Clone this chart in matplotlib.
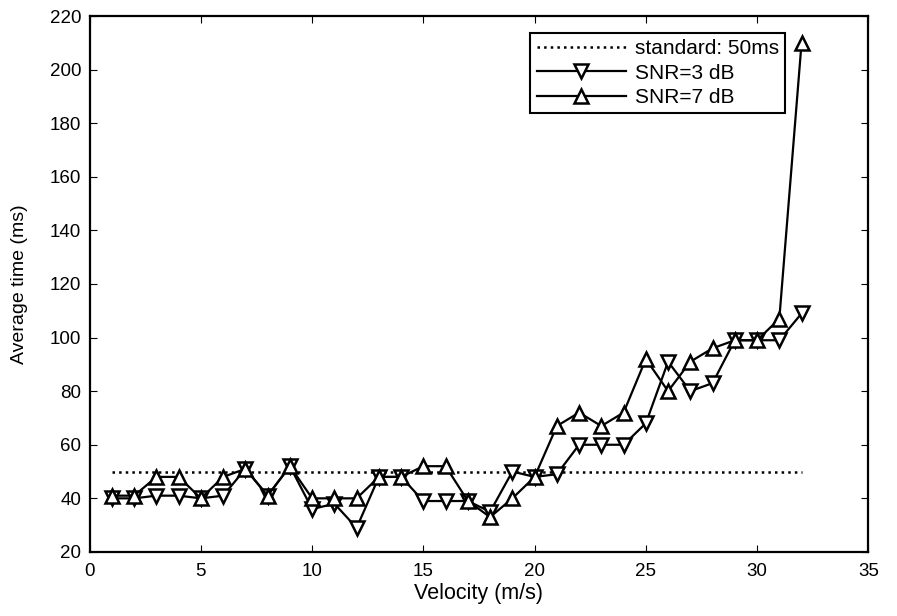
import numpy as np
import matplotlib
matplotlib.use("Agg")
import matplotlib.pyplot as plt

plt.rcParams['font.family'] = ['Liberation Sans', 'DejaVu Sans']

# -- Data
velocity = list(range(1, 33))
snr3 = [40, 40, 41, 41, 40, 41, 51, 41, 52, 36, 38, 29, 48, 48, 39, 39,
        39, 35, 50, 48, 49, 60, 60, 60, 68, 91, 80, 83, 99, 99, 99, 109]
snr7 = [41, 41, 48, 48, 40, 48, 51, 41, 52, 40, 40, 40, 48, 48, 52, 52,
        39, 33, 40, 48, 67, 72, 67, 72, 92, 80, 91, 96, 99, 99, 107, 210]
standard_x = [1, 32]
standard_y = [50, 50]

fig = plt.figure(figsize=(8.97, 6.16), dpi=100)
ax = fig.add_axes([0.1, 0.104, 0.868, 0.870])

ax.plot(standard_x, standard_y, linestyle=':', color='black', linewidth=1.8,
        label='standard: 50ms')
ax.plot(velocity, snr3, color='black', linewidth=1.6, marker='v', markersize=10.5,
        markerfacecolor='white', markeredgecolor='black', markeredgewidth=1.8,
        label='SNR=3 dB')
ax.plot(velocity, snr7, color='black', linewidth=1.6, marker='^', markersize=10.5,
        markerfacecolor='white', markeredgecolor='black', markeredgewidth=1.8,
        label='SNR=7 dB')

ax.set_xlim(0, 35)
ax.set_ylim(20, 220)
ax.set_xticks(np.arange(0, 36, 5))
ax.set_yticks(np.arange(20, 221, 20))
ax.tick_params(direction='in', top=True, right=True, labelsize=13.5, length=5)
ax.tick_params(axis='x', pad=8)
ax.tick_params(axis='y', pad=6)
for s in ax.spines.values():
    s.set_linewidth(1.6)

ax.set_xlabel('Velocity (m/s)', fontsize=15.5, labelpad=2)
ax.set_ylabel('Average time (ms)', fontsize=14, labelpad=16)

leg = ax.legend(loc='upper right', bbox_to_anchor=(0.893, 0.968), fontsize=15,
                fancybox=False, framealpha=1, edgecolor='black',
                handlelength=4.3, handletextpad=0.4, borderpad=0.3,
                labelspacing=0.25, borderaxespad=0)
leg.get_frame().set_linewidth(1.5)

plt.savefig('out.png', dpi=100)
